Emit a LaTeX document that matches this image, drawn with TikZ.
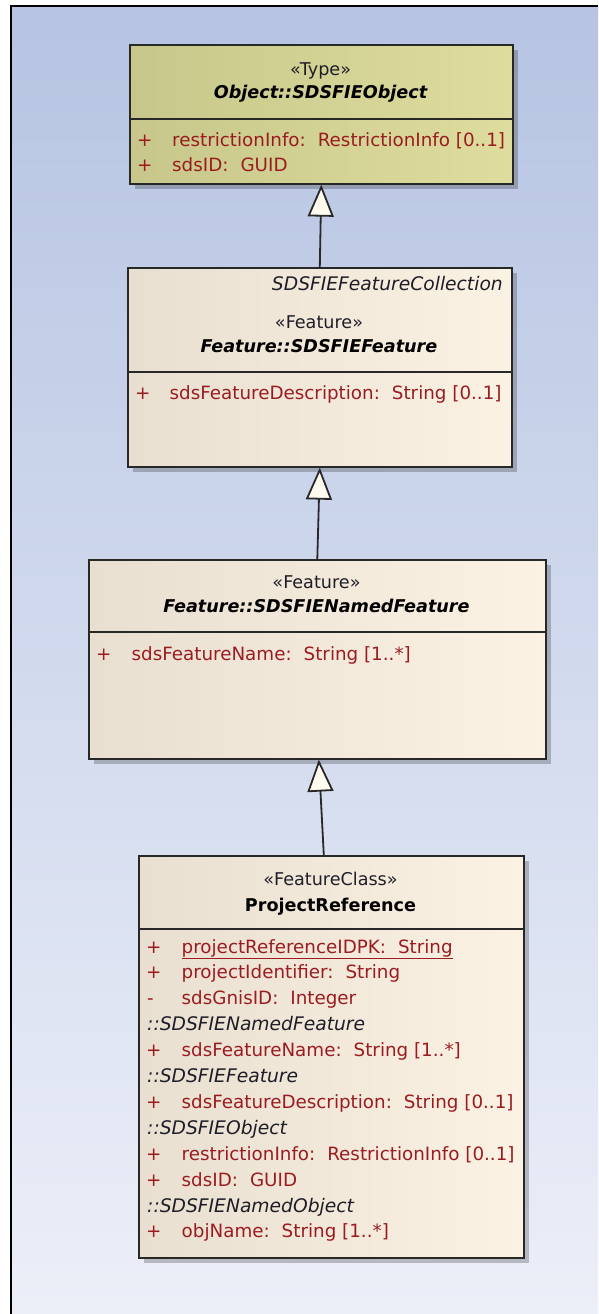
\documentclass[tikz,border=0pt]{standalone}
\usepackage{fontspec}
\setmainfont{DejaVu Sans}
\usetikzlibrary{arrows.meta,shadows,calc}
\definecolor{bgtop}{RGB}{182,196,226}
\definecolor{bgbot}{RGB}{236,239,248}
\definecolor{typeL}{RGB}{199,199,139}
\definecolor{typeR}{RGB}{222,221,158}
\definecolor{featL}{RGB}{232,223,208}
\definecolor{featR}{RGB}{252,242,227}
\definecolor{boxline}{RGB}{40,40,40}
\definecolor{attr}{RGB}{155,28,32}
\definecolor{stereo}{RGB}{30,30,40}
\definecolor{tipfill}{RGB}{255,251,240}
\newcommand{\fsz}{\fontsize{17.6pt}{21pt}\selectfont}
\newcommand{\fsa}{\fontsize{18.3pt}{21pt}\selectfont}
\newcommand{\fsi}{\fontsize{18.7pt}{21pt}\selectfont}
\newcommand{\gp}{\hspace{12pt}}
\begin{document}
\begin{tikzpicture}[x=1pt,y=-1pt,
  umlbox/.style={draw=boxline, line width=1.6pt, rectangle, inner sep=0pt, anchor=north west,
     drop shadow={shadow xshift=5pt, shadow yshift=-5pt, opacity=0.22, fill=black}},
  typebox/.style={umlbox, left color=typeL, right color=typeR},
  featbox/.style={umlbox, left color=featL, right color=featR},
  divider/.style={draw=boxline, line width=1.6pt},
  st/.style={inner sep=0pt, font=\fsz},
  stereotype/.style={st, anchor=base, text=stereo},
  ttl/.style={st, anchor=base, text=black, font=\fsz\bfseries\itshape},
  attrtext/.style={st, anchor=base west, text=attr, font=\fsa},
  grp/.style={st, anchor=base west, text=stereo, font=\fsi\itshape},
  conn/.style={draw=boxline, line width=1.8pt, -{Triangle[width=26pt,length=32pt,fill=tipfill]}}
]
\useasboundingbox (0,0) rectangle (598,1314);
\fill[white] (0,0) rectangle (598,1314);
\shade[top color=bgtop, bottom color=bgbot] (11,6) rectangle (598,1314);
\draw[line width=2.2pt, black] (11,1314) -- (11,6) -- (598,6);

% Box 1
\node[typebox, minimum width=383pt, minimum height=139pt] (b1) at (129,44) {};
\draw[divider] ($(b1.north west)+(0,75)$) -- ($(b1.north east)+(0,75)$);
\node[stereotype] (b1s) at (320.5,75) {«Type»};
\node[ttl] (b1n) at (320.5,98) {Object::SDSFIEObject};
\node[attrtext] (b1p1) at (137,146.5) {+};
\node[attrtext] (b1a1) at (172,146.5) {restrictionInfo:\gp RestrictionInfo [0..1]};
\node[attrtext] (b1p2) at (137,171) {+};
\node[attrtext] (b1a2) at (172,171) {sdsID:\gp GUID};

% Box 2
\node[featbox, minimum width=384pt, minimum height=199pt] (b2) at (127,267) {};
\draw[divider] ($(b2.north west)+(0,105)$) -- ($(b2.north east)+(0,105)$);
\node[st, anchor=base east, text=stereo, font=\fsi\itshape] (b2c) at (503,290.5) {SDSFIEFeatureCollection};
\node[stereotype] (b2s) at (319,328) {«Feature»};
\node[ttl] (b2n) at (319,352.5) {Feature::SDSFIEFeature};
\node[attrtext] (b2p1) at (135,399) {+};
\node[attrtext] (b2a1) at (169.5,399) {sdsFeatureDescription:\gp String [0..1]};

% Box 3
\node[featbox, minimum width=457pt, minimum height=199pt] (b3) at (88,559) {};
\draw[divider] ($(b3.north west)+(0,73)$) -- ($(b3.north east)+(0,73)$);
\node[stereotype] (b3s) at (316.5,588) {«Feature»};
\node[ttl] (b3n) at (316.5,612.5) {Feature::SDSFIENamedFeature};
\node[attrtext] (b3p1) at (96,660.5) {+};
\node[attrtext] (b3a1) at (131.5,660.5) {sdsFeatureName:\gp String [1..*]};

% Box 4
\node[featbox, minimum width=385pt, minimum height=402pt] (b4) at (138,855) {};
\draw[divider] ($(b4.north west)+(0,74)$) -- ($(b4.north east)+(0,74)$);
\node[stereotype] (b4s) at (330.5,885) {«FeatureClass»};
\node[st, anchor=base, text=black, font=\fsz\bfseries] (b4n) at (330.5,911.5) {ProjectReference};
\node[attrtext] (b4p0) at (146,953) {+};
\node[attrtext] (b4a0) at (181.5,953) {projectReferenceIDPK:\gp String};
\draw[attr, line width=1.3pt] ($(b4a0.base west)+(0,5.5)$) -- ($(b4a0.base east)+(0,5.5)$);
\node[attrtext] (b4p1) at (146,978.9) {+};
\node[attrtext] (b4a1) at (181.5,978.9) {projectIdentifier:\gp String};
\node[attrtext] (b4p2) at (147,1004.8) {-};
\node[attrtext] (b4a2) at (181.5,1004.8) {sdsGnisID:\gp Integer};
\node[grp] (b4g3) at (147,1030.7) {::SDSFIENamedFeature};
\node[attrtext] (b4p4) at (146,1056.6) {+};
\node[attrtext] (b4a4) at (181.5,1056.6) {sdsFeatureName:\gp String [1..*]};
\node[grp] (b4g5) at (147,1082.5) {::SDSFIEFeature};
\node[attrtext] (b4p6) at (146,1108.4) {+};
\node[attrtext] (b4a6) at (181.5,1108.4) {sdsFeatureDescription:\gp String [0..1]};
\node[grp] (b4g7) at (147,1134.3) {::SDSFIEObject};
\node[attrtext] (b4p8) at (146,1160.2) {+};
\node[attrtext] (b4a8) at (181.5,1160.2) {restrictionInfo:\gp RestrictionInfo [0..1]};
\node[attrtext] (b4p9) at (146,1186.1) {+};
\node[attrtext] (b4a9) at (181.5,1186.1) {sdsID:\gp GUID};
\node[grp] (b4g10) at (147,1212) {::SDSFIENamedObject};
\node[attrtext] (b4p11) at (146,1237.9) {+};
\node[attrtext] (b4a11) at (181.5,1237.9) {objName:\gp String [1..*]};

% Generalizations
\draw[conn] (b2.north) -- (b1.south);
\draw[conn] (b3.north) -- (b2.south);
\draw[conn] ([xshift=-7.5pt]b4.north) -- ([xshift=1.5pt]b3.south);
\end{tikzpicture}
\end{document}
